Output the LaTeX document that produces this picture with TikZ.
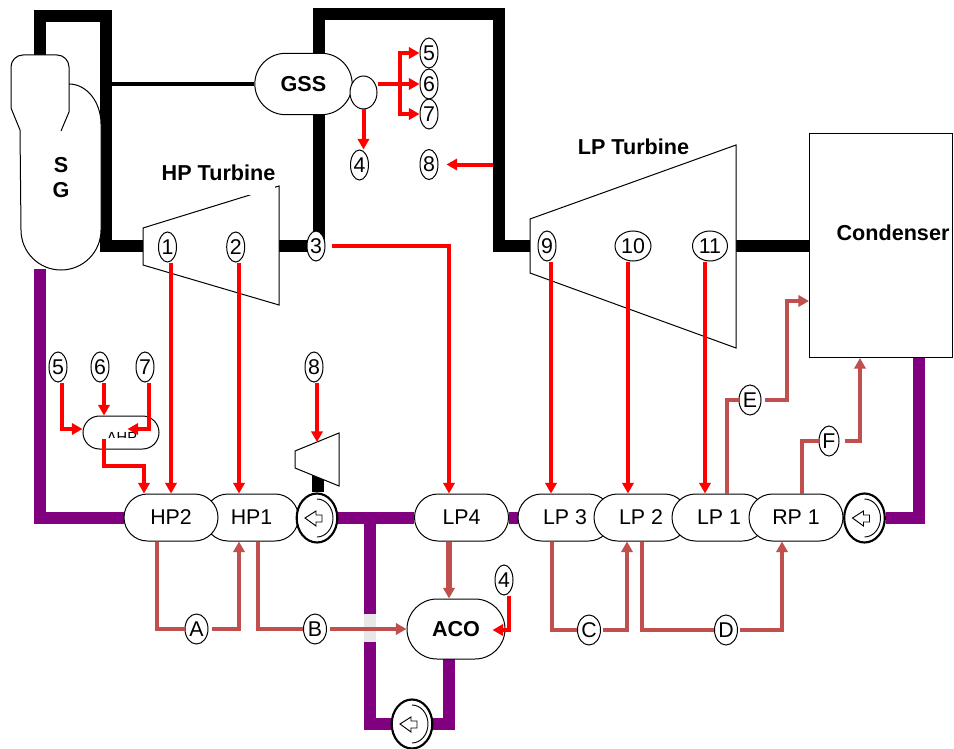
\documentclass[tikz,border=0pt]{standalone}
\usepackage{fontspec}
\setmainfont{Liberation Sans}
\usetikzlibrary{arrows.meta,calc,shapes.geometric,shapes.misc,backgrounds}
\definecolor{pipepurple}{HTML}{800080}
\definecolor{pinkline}{HTML}{C0504D}
\tikzset{
  txt/.style={font=\fontsize{16}{18.75}\selectfont,inner sep=0pt},
  btxt/.style={inner sep=0pt,font=\fontsize{16.2}{18.75}\selectfont\bfseries},
  tag/.style={txt,ellipse,draw=black,fill=white,line width=.75pt,minimum width=13.5pt,minimum height=22.5pt},
  tagw/.style={tag,minimum width=#1*.75pt},
  vessel/.style={txt,rounded rectangle,draw=black,fill=white,line width=.75pt,minimum width=70.5pt,minimum height=35.25pt},
  pump/.style={ellipse,draw=black,fill=white,line width=1.6pt,inner sep=0pt,minimum width=30.5pt,minimum height=36.75pt},
  thin/.style={draw=black,fill=white,line width=.75pt},
  steam/.style={draw=black,line width=9pt},
  water/.style={draw=pipepurple,line width=9pt},
  redl/.style={draw=red,line width=3pt},
  redarr/.style={redl,-{Triangle[length=8pt,width=8.5pt]}},
  pinkl/.style={draw=pinkline,line width=3pt},
  pinkarr/.style={pinkl,-{Triangle[length=8pt,width=8.5pt]}},
  pumpmark/.pic={
    \draw[line width=.7pt] (0,-19) arc[start angle=-90,end angle=90,x radius=16,y radius=19];
    \draw[line width=.7pt,fill=white] (-12,0) -- (-1,-7) -- (-1,-3) -- (5,-3) -- (5,4) -- (-1,4) -- (-1,8) -- cycle;
  }
}
\begin{document}
\begin{tikzpicture}[x=.75pt,y=-.75pt]
\useasboundingbox (0,0) rectangle (954,749);

% free connector ends
\coordinate (sgtop) at (40,55);
\coordinate (sgbot) at (40,269);
\coordinate (hpin) at (143,246);
\coordinate (hpout) at (279,246);
\coordinate (lpin) at (530,246);
\coordinate (lpout) at (736,246);
\coordinate (gssline) at (106,84);
\coordinate (tee) at (370,518);
\coordinate (acoin) at (449,659);
\coordinate (smallt) at (318,475);
\coordinate (smalltop) at (317,442);
\coordinate (tap) at (493,164.5);
\coordinate (br) at (400,84);

% steam generator
\draw[thin] (69,84) arc[start angle=-90,end angle=0,x radius=32,y radius=40] -- (101,230)
  arc[start angle=0,end angle=180,radius=40] -- (20,130) -- (11,108) -- (11,67)
  arc[start angle=180,end angle=270,radius=12] -- (57,55)
  arc[start angle=270,end angle=360,radius=12] -- (69,112) -- (61,131);
\node[btxt,align=center] (sg) at (61,178) {S\\G};

% turbines
\draw[thin] (143,228) -- (279,186) -- (279,305) -- (143,265) -- cycle;
\fill[white] (159,150) rectangle (275,195);
\node[btxt] (hplabel) at (218.5,173) {HP Turbine};
\draw[thin] (530,219) -- (736,145) -- (736,348) -- (530,273) -- cycle;
\node[btxt] (lplabel) at (633.5,147) {LP Turbine};
\draw[thin] (295,451) -- (339,433) -- (339,486) -- (295,468) -- cycle;

% equipment
\node[vessel,btxt,minimum width=73pt,minimum height=46pt] (GSS) at (303.5,84) {GSS};
\node[ellipse,draw=black,fill=white,line width=.75pt,inner sep=0pt,minimum width=20.25pt,minimum height=24.75pt] (valve) at (363.5,92.5) {};
\node[thin,draw,minimum width=107.25pt,minimum height=167.25pt,inner sep=0pt] (cond) at (881,245.5) {};
\node[btxt] (condlabel) at (893,233) {Condenser};
\node[vessel,minimum width=57pt,minimum height=24.75pt] (AHP) at (121,432.5) {};
\begin{scope}
  \clip (83,425) rectangle (159,437.5);
  \node[inner sep=0pt,font=\fontsize{11}{13}\selectfont] (ahptext) at (122,437.5) {AHP};
\end{scope}
\node[vessel] (HP1) at (251.5,517.5) {HP1};
\node[vessel] (HP2) at (171,517.5) {HP2};
\node[vessel] (LP4) at (461.5,517.5) {LP4};
\node[vessel] (LP3) at (565,517.5) {LP 3};
\node[vessel] (LP2) at (641,517.5) {LP 2};
\node[vessel] (LP1) at (719,517.5) {LP 1};
\node[vessel] (RP1) at (796,517.5) {RP 1};
\node[vessel,btxt,minimum width=73.5pt,minimum height=45pt] (ACO) at (456,629) {ACO};

% pumps
\node[pump] (p1) at (317,518) {};
\node[pump] (p2) at (864.5,518) {};
\node[pump] (p3) at (412,724) {};
\pic at (p1) {pumpmark};
\pic at (p2) {pumpmark};
\pic at (p3) {pumpmark};

% numbered tags
\node[tag] (n1) at (167.5,247) {1};
\node[tag] (n2) at (235.7,247) {2};
\node[tag] (n3) at (316,246) {3};
\node[tag] (n4a) at (359.5,165) {4};
\node[tag] (n5a) at (429,53) {5};
\node[tag] (n6a) at (429,84) {6};
\node[tag] (n7a) at (429,114) {7};
\node[tag] (n8a) at (429,164.5) {8};
\node[tag] (n9) at (547,246) {9};
\node[tagw=36] (n10) at (633,246) {10};
\node[tagw=35] (n11) at (710,246) {11};
\node[tag] (n5b) at (58,367) {5};
\node[tag] (n6b) at (100,367) {6};
\node[tag] (n7b) at (145,367) {7};
\node[tag] (n8b) at (314,367) {8};
\node[tag] (n4b) at (504,580) {4};
\node[tagw=23] (A) at (196.5,629) {A};
\node[tagw=23] (B) at (315,629) {B};
\node[tagw=23] (C) at (589,630) {C};
\node[tagw=23] (D) at (726,630) {D};
\node[tagw=22] (E) at (750,400) {E};
\node[tagw=20] (F) at (829,441) {F};

% pipes behind everything
\begin{scope}[on background layer]
  \draw[steam] (sgtop) -- (40,16) -- (106,16) -- (106,246) -- (hpin);
  \draw[steam] (hpout) -- (n3);
  \draw[steam] (319,246) -- (319,14) -- (499,14) -- (499,246) -- (lpin);
  \draw[steam] (lpout) -- (lpout -| cond.west);
  \draw[steam] (smallt) -- (smallt |- p1.north);
  \draw[draw=black,line width=3pt] (gssline) -- (GSS.west);
  \draw[water] (HP2.west |- tee) -- (40,518) -- (sgbot);
  \draw[water] (p1.east) -- (LP4.west |- p1.east);
  \draw[water] (LP4.east) -- (LP3.west);
  \draw[water] (p2.east) -- (919,518) -- (919,357);
  \draw[water] (tee) -- (tee |- p3) -- (p3);
  \draw[water] (p3) -- (acoin |- p3) -- (acoin);
  \fill[black!9] (364,614) rectangle (376,642);
\end{scope}

% extraction steam
\draw[redarr] (n1.south -| HP2.north) -- (HP2.north);
\draw[redarr] ($(n2.south)+(3.3,0)$) coordinate (t2) -- (t2 |- HP1.north);
\draw[redarr] ($(n3.east)+(6,0)$) -| ($(LP4.north)+(-12.5,0)$);
\draw[redarr] ($(n9.south)+(4,0)$) coordinate (t9) -- (t9 |- LP3.north);
\draw[redarr] ($(n10.south)+(-5,0)$) coordinate (t10) -- (t10 |- LP2.north);
\draw[redarr] ($(n11.south)+(-5,0)$) coordinate (t11) -- (t11 |- LP1.north);
\draw[redarr] ($(n8b.south)+(3,0)$) -- (smalltop);
\draw[redarr] ($(n5b.south)+(4,0)$) |- ($(AHP.west)+(0,-3.5)$);
\draw[redarr] ($(n6b.south)+(4,0)$) coordinate (t6) -- (t6 |- AHP.north);
\draw[redarr] ($(n7b.south)+(4,0)$) |- ($(AHP.east)+(-32,-3.5)$);
\draw[redarr] (104,439) coordinate (ahpout) -- (104,466) -| ($(HP2.north)+(-27,0)$);
\draw[redarr] (n6a.west -| valve.east) -- (n6a.west);
\draw[redarr] (br) |- (n5a.west);
\draw[redarr] (br) |- (n7a.west);
\draw[redarr] (valve.south) -- (valve.south |- n4a.north);
\draw[redarr] (tap) -- ($(n8a.east)+(8,0)$);
\draw[redarr] ($(n4b.south)+(5,0)$) |- ($(ACO.east)+(-13,1)$);

% drains
\draw[pinkl] ($(HP2.south)+(-14,0)$) |- (A.west);
\draw[pinkarr] ($(A.east)+(3,0)$) -| ($(HP1.south)+(-12.5,0)$);
\draw[pinkl] ($(HP1.south)+(6.5,0)$) |- (B.west);
\draw[pinkarr] ($(B.east)+(3,0)$) -- (ACO.west |- B.east);
\draw[pinkarr,line width=4.5pt] (acoin |- LP4.south) -- (acoin |- ACO.north);
\draw[pinkl] ($(LP3.south)+(-13,0)$) |- (C.west);
\draw[pinkarr] ($(C.east)+(2,0)$) -| ($(LP2.south)+(-14,0)$);
\draw[pinkl] ($(LP2.south)+(1,0)$) |- (D.west);
\draw[pinkarr] ($(D.east)+(2,0)$) -| ($(RP1.south)+(-14,0)$);
\draw[pinkl] ($(LP1.north)+(7.5,0)$) |- (E.west);
\draw[pinkarr] ($(E.east)+(3,0)$) -- (787,400) |- (cond.west |- 0,301);
\draw[pinkl] ($(RP1.north)+(6,0)$) |- (F.west);
\draw[pinkarr] ($(F.east)+(5,0)$) -| (860,358);
\end{tikzpicture}
\end{document}
